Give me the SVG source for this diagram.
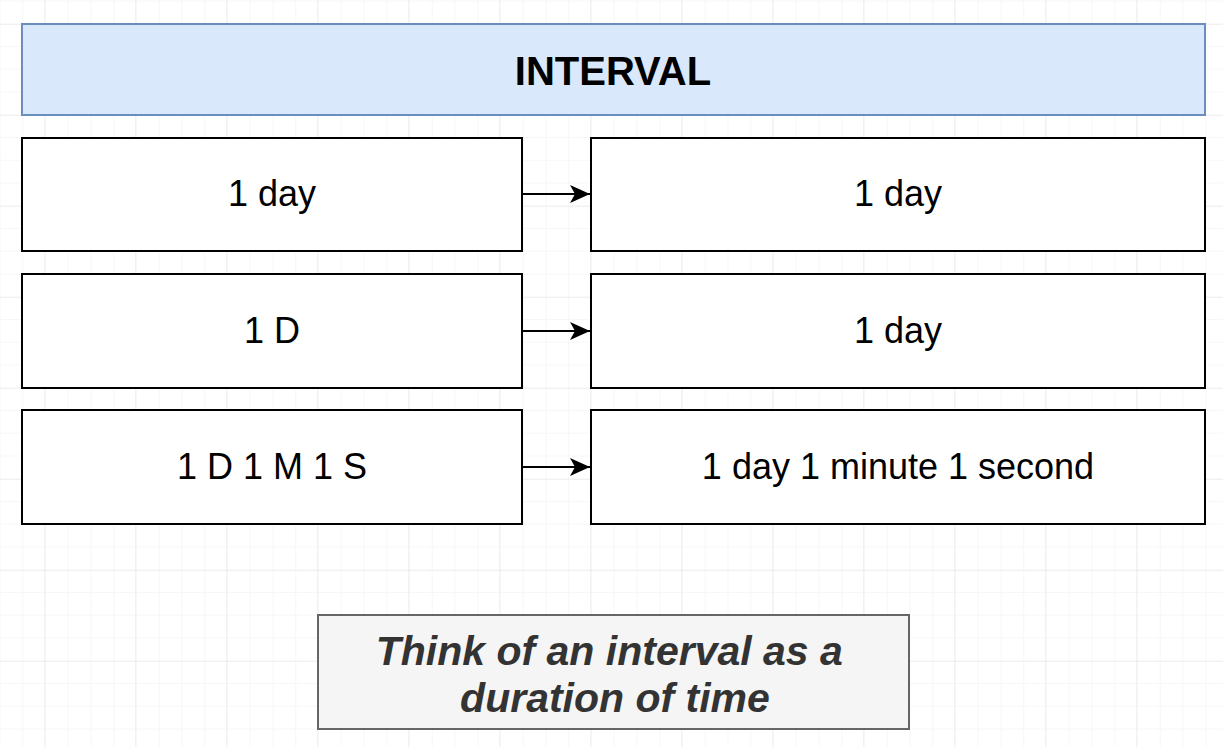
<svg xmlns="http://www.w3.org/2000/svg" width="1223" height="747" viewBox="0 0 1223 747">
<defs>
<pattern id="minor" width="22.75" height="22.75" patternUnits="userSpaceOnUse" x="-0.5" y="0.5">
<path d="M 22.75 0 L 0 0 0 22.75" fill="none" stroke="#f0f0f0" stroke-width="1"/>
</pattern>
<pattern id="major" width="91" height="91" patternUnits="userSpaceOnUse" x="44" y="24">
<path d="M 91 0 L 0 0 0 91" fill="none" stroke="#e6e6e6" stroke-width="1"/>
</pattern>
<marker id="arrow" viewBox="0 0 20 18" refX="20" refY="9" markerWidth="20" markerHeight="18" markerUnits="userSpaceOnUse" orient="auto">
<path d="M0 0 L20 9 L0 18 L5 9 Z" fill="#000"/>
</marker>
</defs>
<style>
.box{fill:#fff;stroke:#000;stroke-width:2}
.lbl{font-family:"Liberation Sans",Arial,sans-serif;font-size:36px;fill:#000;text-anchor:middle}
.conn{stroke:#000;stroke-width:2;fill:none}
</style>
<rect width="1223" height="747" fill="#fff"/>
<rect width="1223" height="747" fill="url(#minor)"/>
<rect width="1223" height="747" fill="url(#major)"/>

<g id="header">
<rect x="22" y="24" width="1183" height="91" fill="#dae8fc" stroke="#6c8ebf" stroke-width="2"/>
<text x="613" y="85" font-family="Liberation Sans, Arial, sans-serif" font-size="40" font-weight="bold" text-anchor="middle" fill="#000">INTERVAL</text>
</g>

<g id="in1"><rect class="box" x="22" y="138" width="500" height="113"/><text class="lbl" x="272" y="206">1 day</text></g>
<g id="out1"><rect class="box" x="591" y="138" width="614" height="113"/><text class="lbl" x="898" y="206">1 day</text></g>
<g id="in2"><rect class="box" x="22" y="274" width="500" height="114"/><text class="lbl" x="272" y="343">1 D</text></g>
<g id="out2"><rect class="box" x="591" y="274" width="614" height="114"/><text class="lbl" x="898" y="343">1 day</text></g>
<g id="in3"><rect class="box" x="22" y="410" width="500" height="114"/><text class="lbl" x="272" y="479">1 D 1 M 1 S</text></g>
<g id="out3"><rect class="box" x="591" y="410" width="614" height="114"/><text class="lbl" x="898" y="479">1 day 1 minute 1 second</text></g>

<g id="connectors">
<line class="conn" x1="522" y1="194" x2="590" y2="194" marker-end="url(#arrow)"/>
<line class="conn" x1="522" y1="331" x2="590" y2="331" marker-end="url(#arrow)"/>
<line class="conn" x1="522" y1="467" x2="590" y2="467" marker-end="url(#arrow)"/>
</g>

<g id="note">
<rect x="318" y="615" width="591" height="114" fill="#f5f5f5" stroke="#666" stroke-width="2"/>
<text font-family="Liberation Sans, Arial, sans-serif" font-size="41" font-weight="bold" font-style="italic" fill="#333" text-anchor="middle">
<tspan x="615" y="665">Think of an interval as a</tspan>
<tspan x="615" y="712">duration of time</tspan>
</text>
</g>
</svg>
